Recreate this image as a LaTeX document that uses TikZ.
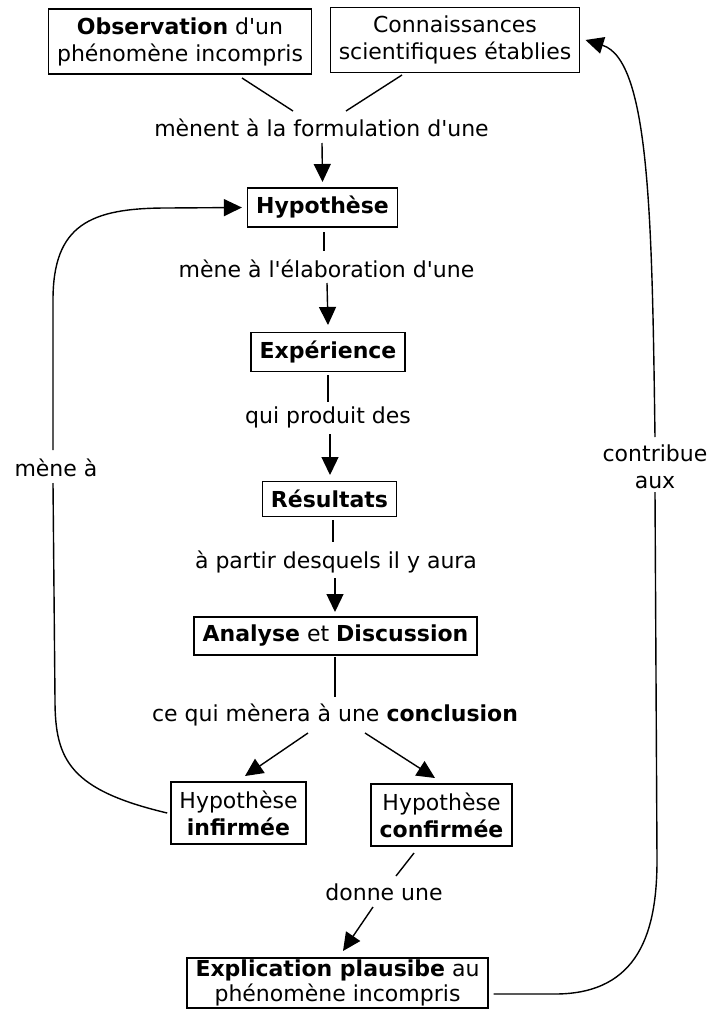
\documentclass[tikz,border=0pt]{standalone}
\usepackage{fontspec}
\newfontfamily\diagfont{DejaVu Sans}
\usetikzlibrary{arrows.meta}
\begin{document}
\begin{tikzpicture}[x=1pt,y=-1pt,
  box/.style={draw, line width=1.5pt, align=center, inner xsep=8.5pt, inner ysep=8.5pt, font=\diagfont\fontsize{22}{27}\selectfont},
  lbl/.style={align=center, inner sep=0pt, font=\diagfont\fontsize{22}{27}\selectfont},
  conn/.style={line width=1.4pt},
  arr/.style={line width=1.4pt, -{Triangle[length=18pt,width=17pt]}}]
\useasboundingbox (0,0) rectangle (710,1009);
\fill[white] (0,0) rectangle (710,1009);

% nodes
\node[box] (obs) at (180,41.5) {\textbf{Observation} d'un\\phénomène incompris};
\node[box] (conn) at (455,40) {Connaissances\\scientifiques établies};
\node[lbl] (l1) at (321.5,128) {mènent à la formulation d'une};
\node[box] (hyp) at (322.5,207.5) {\textbf{Hypothèse}};
\node[lbl] (l2) at (326.5,269) {mène à l'élaboration d'une};
\node[box] (exp) at (328,352) {\textbf{Expérience}};
\node[lbl] (l3) at (328,417) {qui produit des};
\node[box] (res) at (329.5,499) {\textbf{Résultats}};
\node[lbl] (l4) at (336,562) {à partir desquels il y aura};
\node[box] (ana) at (335.5,636) {\textbf{Analyse} et \textbf{Discussion}};
\node[lbl] (l5) at (335,715) {ce qui mènera à une \textbf{conclusion}};
\node[box] (inf) at (238.5,813) {Hypothèse\\\textbf{infirmée}};
\node[box] (conf) at (441.5,815) {Hypothèse\\\textbf{confirmée}};
\node[lbl] (l6) at (384,892) {donne une};
\node[box, anchor=north, inner ysep=2pt, font=\diagfont\fontsize{22}{25}\selectfont] (expl) at (337.5,957) {\textbf{Explication plausibe} au\\phénomène incompris};
\node[lbl] (contrib) at (655,466.5) {contribue\\aux};
\node[lbl] (menea) at (56,468) {mène à};

% connectors
\draw[conn] ([shift={(62,36.5)}]obs.center) -- ([shift={(-28.5,-17)}]l1.center);
\draw[conn] ([shift={(-53,35)}]conn.center) -- ([shift={(24.5,-17)}]l1.center);
\draw[arr] ([shift={(0.5,15)}]l1.center) -- ([shift={(0,-25.5)}]hyp.center);
\draw[conn] ([shift={(1.5,24.5)}]hyp.center) -- ([shift={(-2.5,-18)}]l2.center);
\draw[arr] ([shift={(0.5,14)}]l2.center) -- ([shift={(0,-27)}]exp.center);
\draw[conn] ([shift={(0,23)}]exp.center) -- ([shift={(0,-15)}]l3.center);
\draw[arr] ([shift={(2,17)}]l3.center) -- ([shift={(0.5,-24)}]res.center);
\draw[conn] ([shift={(3.5,21)}]res.center) -- ([shift={(-3,-20)}]l4.center);
\draw[arr] ([shift={(-1,16)}]l4.center) -- ([shift={(-0.5,-24)}]ana.center);
\draw[conn] ([shift={(-0.5,21)}]ana.center) -- ([shift={(0,-18)}]l5.center);
\draw[arr] ([shift={(-27,18)}]l5.center) -- ([shift={(6.5,-37)}]inf.center);
\draw[arr] ([shift={(30,18)}]l5.center) -- ([shift={(-6.5,-37)}]conf.center);
\draw[conn] ([shift={(-27.5,38)}]conf.center) -- ([shift={(12,-16)}]l6.center);
\draw[arr] ([shift={(-11,15)}]l6.center) -- ([shift={(5.5,-6)}]expl.north);

% contribue aux loop
\draw[conn] ([xshift=5pt,yshift=-37pt]expl.north east) -- (555,994)
  .. controls (640,994) and (657,930) .. (657,860) -- ([shift={(0,25.5)}]contrib.center);
\draw[arr] ([shift={(0,-29.5)}]contrib.center) .. controls (652,220) and (650,60) .. ([xshift=5pt]conn.east);

% mene a loop
\draw[conn] ([xshift=-3pt]inf.west) .. controls (70,790) and (55,760) .. (55,700) -- ([shift={(-3,15)}]menea.center);
\draw[arr] ([shift={(-3,-18)}]menea.center) -- (53,300) .. controls (53,225) and (90,208) .. (167,208) -- ([xshift=-5pt]hyp.west);
\end{tikzpicture}
\end{document}
